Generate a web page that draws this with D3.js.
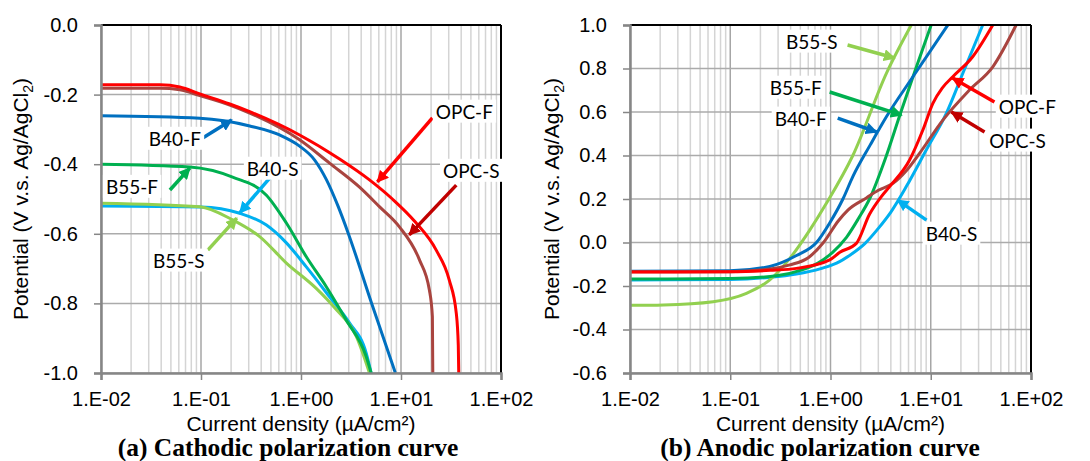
<!DOCTYPE html>
<html>
<head>
<meta charset="utf-8">
<title>Cathodic and anodic polarization curves</title>
<script src="https://d3js.org/d3.v7.min.js"></script>
<style>
body { margin: 0; background: #fff; }
svg text { font-family: "Liberation Sans", Arial, sans-serif; fill: #000; }
.lbl { font-family: Lato, "Open Sans", sans-serif; }
.cap { font-family: "Liberation Serif", "Times New Roman", serif; font-weight: bold; }
</style>
</head>
<body>
<svg id="chart" width="1090" height="461"></svg>
<script>

// ---- data: [current density (uA/cm2), potential (V)] ----
var seriesNames = ["B40-S", "B55-S", "B55-F", "B40-F", "OPC-S", "OPC-F"];
var seriesColors = ["#00B0F0", "#92D050", "#00B050", "#0070C0", "#A9443F", "#FF0000"];

// (a) cathodic
var cathOPCF = [[0.01,-0.172],[0.039,-0.172],[0.0614,-0.178],[0.0973,-0.198],[0.194,-0.227],[0.307,-0.249],[0.968,-0.316],[2.43,-0.385],[4.84,-0.445],[8.20,-0.500],[13.9,-0.566],[22.5,-0.647],[30.4,-0.733],[35.7,-0.828],[37.4,-0.920],[37.8,-1.0]];
var cathOPCS = [[0.01,-0.182],[0.039,-0.182],[0.0614,-0.186],[0.0973,-0.203],[0.194,-0.230],[0.307,-0.253],[0.968,-0.330],[1.93,-0.397],[3.85,-0.466],[6.08,-0.522],[9.64,-0.580],[15.3,-0.675],[19.2,-0.761],[20.6,-0.838],[20.8,-1.0]];
var cathB40F = [[0.01,-0.261],[0.0973,-0.268],[0.307,-0.290],[0.611,-0.316],[0.968,-0.348],[1.37,-0.388],[1.80,-0.445],[2.32,-0.517],[2.99,-0.601],[5.07,-0.799],[8.79,-1.0]];
var cathB40S = [[0.01,-0.520],[0.1,-0.523],[0.244,-0.541],[0.451,-0.575],[0.714,-0.626],[1.13,-0.695],[1.93,-0.781],[3.05,-0.856],[4.49,-0.943],[5.03,-1.0]];
var cathB55F = [[0.01,-0.400],[0.0773,-0.408],[0.207,-0.437],[0.451,-0.489],[0.714,-0.569],[1.13,-0.666],[1.79,-0.752],[2.83,-0.848],[4.49,-0.953],[5.03,-1.0]];
var cathB55S = [[0.01,-0.512],[0.0973,-0.522],[0.207,-0.560],[0.386,-0.608],[0.714,-0.684],[1.42,-0.757],[2.16,-0.812],[3.59,-0.896],[4.84,-1.0]];

// (b) anodic
var anodOPCF = [[0.01,-0.136],[0.1,-0.135],[0.25,-0.128],[0.457,-0.119],[0.982,-0.080],[1.24,-0.045],[1.81,-0.004],[2.45,0.13],[3.2,0.21],[3.89,0.257],[6.15,0.379],[8.34,0.517],[10.5,0.640],[13,0.71],[16.6,0.762],[26.2,0.854],[41.6,1.0]];
var anodOPCS = [[0.01,-0.135],[0.1,-0.134],[0.25,-0.122],[0.393,-0.103],[0.6,-0.07],[0.85,0.0],[1.2,0.1],[1.5,0.15],[2.28,0.205],[3.0,0.24],[4.2,0.272],[5.7,0.33],[7.73,0.41],[13.2,0.563],[24.3,0.701],[41.6,0.808],[71.1,1.0]];
var anodB40F = [[0.01,-0.132],[0.099,-0.130],[0.248,-0.11],[0.457,-0.06],[0.724,0.0],[0.982,0.09],[1.33,0.20],[1.67,0.303],[2.5,0.45],[3.61,0.578],[6.64,0.762],[14.8,1.0]];
var anodB40S = [[0.01,-0.172],[0.1,-0.170],[0.25,-0.160],[0.457,-0.145],[0.8,-0.12],[1.15,-0.095],[1.6,-0.055],[2.2,-0.005],[3.0,0.065],[4.0,0.14],[5.70,0.257],[9.02,0.425],[14.3,0.594],[20.9,0.778],[33.0,1.0]];
var anodB55F = [[0.01,-0.168],[0.1,-0.166],[0.3,-0.152],[0.5,-0.128],[0.75,-0.095],[1.05,-0.045],[1.45,0.025],[1.9,0.11],[2.45,0.20],[3.55,0.39],[4.95,0.59],[7.1,0.80],[10.1,1.0]];
var anodB55S = [[0.01,-0.289],[0.0215,-0.287],[0.0676,-0.272],[0.145,-0.234],[0.248,-0.172],[0.393,-0.073],[0.621,0.057],[0.91,0.18],[1.67,0.40],[3.61,0.778],[6.40,1.0]];

// axis ticks
var xDecades = [0.01, 0.1, 1, 10, 100];
var xTickLabels = ["1.E-02", "1.E-01", "1.E+00", "1.E+01", "1.E+02"];
var cathYTicks = [0, -0.2, -0.4, -0.6, -0.8, -1.0];
var anodYTicks = [1.0, 0.8, 0.6, 0.4, 0.2, 0, -0.2, -0.4, -0.6];

// annotations: [text, series index, text (i,V), arrow from (i,V), arrow to (i,V)]
var cathNotes = [
  ["OPC-F", 5, [43.0,-0.25], [20.6,-0.267], [5.81,-0.451]],
  ["OPC-S", 4, [50.5,-0.42], [35.7,-0.46], [12.1,-0.603]],
  ["B40-F", 3, [0.0548,-0.328], [0.104,-0.325], [0.203,-0.273]],
  ["B55-F", 2, [0.0204,-0.466], [0.0489,-0.474], [0.0773,-0.411]],
  ["B40-S", 0, [0.521,-0.414], [0.486,-0.44], [0.244,-0.540]],
  ["B55-S", 1, [0.060,-0.678], [0.117,-0.647], [0.228,-0.555]]
];
var anodNotes = [
  ["B55-S", 1, [0.650,0.922], [1.48,0.908], [4.36,0.848]],
  ["B55-F", 2, [0.450,0.710], [0.982,0.692], [5.12,0.586]],
  ["B40-F", 3, [0.505,0.568], [1.18,0.572], [2.88,0.508]],
  ["OPC-F", 5, [92.0,0.623], [43.2,0.646], [16.5,0.756]],
  ["OPC-S", 4, [73.3,0.467], [34.4,0.508], [16.1,0.600]],
  ["B40-S", 0, [16.1,0.039], [9.08,0.103], [4.67,0.195]]
];

// label colours differ from line colours for some mixes
var labelColors = ["#00B0F0", "#77933C", "#00B050", "#0070C0", "#C00000", "#FF0000"];
var arrowColors = ["#00B0F0", "#92D050", "#00B050", "#0070C0", "#C00000", "#FF0000"];

var svg = d3.select("#chart");

// arrow head markers, one per colour
var defs = svg.append("defs");
arrowColors.forEach(function(c, i) {
  defs.append("marker")
    .attr("id", "arrow" + i)
    .attr("viewBox", "0 0 10 10")
    .attr("refX", 9).attr("refY", 5)
    .attr("markerUnits", "userSpaceOnUse")
    .attr("markerWidth", 12).attr("markerHeight", 12)
    .attr("orient", "auto")
    .append("path")
    .attr("d", "M0,0 L10,5 L0,10 z")
    .attr("fill", c);
});

function drawPanel(p) {
  var x = d3.scaleLog().domain([0.01, 100]).range([p.left, p.right]);
  var y = d3.scaleLinear().domain(p.yDomain).range([p.bottom, p.top]);
  var g = svg.append("g");

  // minor vertical grid
  g.append("g").selectAll("line")
    .data(x.ticks().filter(d => xDecades.indexOf(d) < 0))
    .join("line")
    .attr("x1", d => x(d)).attr("x2", d => x(d))
    .attr("y1", p.top).attr("y2", p.bottom)
    .attr("stroke", "#d4d4d4").attr("stroke-width", 1.5);
  // major vertical grid
  g.append("g").selectAll("line")
    .data(xDecades)
    .join("line")
    .attr("x1", d => x(d)).attr("x2", d => x(d))
    .attr("y1", p.top).attr("y2", p.bottom)
    .attr("stroke", "#a6a6a6").attr("stroke-width", 1.5);
  // horizontal grid
  g.append("g").selectAll("line")
    .data(p.yTicks)
    .join("line")
    .attr("x1", p.left).attr("x2", p.right)
    .attr("y1", d => y(d)).attr("y2", d => y(d))
    .attr("stroke", "#ababab").attr("stroke-width", 1.5);

  // curves
  var line = d3.line()
    .x(d => x(d[0]))
    .y(d => y(d[1]))
    .curve(d3.curveMonotoneX);
  g.append("g").selectAll("path")
    .data(p.series)
    .join("path")
    .attr("d", d => line(d))
    .attr("fill", "none")
    .attr("stroke", (d, i) => seriesColors[i])
    .attr("stroke-width", 3)
    .attr("stroke-linejoin", "round");

  // frame: black top/right, grey axes left/bottom
  g.append("line").attr("x1", p.left).attr("x2", p.right).attr("y1", p.top).attr("y2", p.top)
    .attr("stroke", "#000").attr("stroke-width", 2);
  g.append("line").attr("x1", p.right).attr("x2", p.right).attr("y1", p.top).attr("y2", p.bottom)
    .attr("stroke", "#000").attr("stroke-width", 2);

  var yAxis = g.append("g")
    .attr("transform", "translate(" + p.left + ",0)")
    .call(d3.axisLeft(y).tickValues(p.yTicks).tickFormat(d => d.toFixed(1)).tickSize(7).tickPadding(16));
  var xAxis = g.append("g")
    .attr("transform", "translate(0," + p.bottom + ")")
    .call(d3.axisBottom(x).tickValues(xDecades).tickFormat((d, i) => xTickLabels[i]).tickSize(7).tickPadding(12));
  [yAxis, xAxis].forEach(function(a) {
    a.select(".domain").attr("stroke", "#868686").attr("stroke-width", 2.5);
    a.selectAll(".tick line").attr("stroke", "#868686").attr("stroke-width", 1.5);
    a.selectAll(".tick text").attr("font-size", 20).attr("fill", "#000");
  });

  // axis titles
  g.append("text")
    .attr("x", (p.left + p.right) / 2).attr("y", 431)
    .attr("text-anchor", "middle").attr("font-size", 21)
    .text("Current density (µA/cm²)");
  var yt = g.append("text")
    .attr("transform", "translate(" + p.yTitleX + "," + ((p.top + p.bottom) / 2) + ") rotate(-90)")
    .attr("text-anchor", "middle").attr("font-size", 21);
  yt.append("tspan").text("Potential (V v.s. Ag/AgCl");
  yt.append("tspan").attr("font-size", 14).attr("dy", 5).text("2");
  yt.append("tspan").attr("dy", -5).text(")");

  // caption
  g.append("text").attr("class", "cap")
    .attr("x", p.captionX).attr("y", 456)
    .attr("text-anchor", "middle").attr("font-size", 25.5)
    .text(p.caption);

  // annotations
  var notes = g.append("g");
  p.notes.forEach(function(n) {
    var k = n[1];
    notes.append("line")
      .attr("x1", x(n[3][0])).attr("y1", y(n[3][1]))
      .attr("x2", x(n[4][0])).attr("y2", y(n[4][1]))
      .attr("stroke", arrowColors[k]).attr("stroke-width", 3.5)
      .attr("marker-end", "url(#arrow" + k + ")");
  });
  p.notes.forEach(function(n) {
    var k = n[1];
    var t = notes.append("text").attr("class", "lbl")
      .attr("x", x(n[2][0])).attr("y", y(n[2][1]))
      .attr("text-anchor", "middle").attr("dy", "0.35em")
      .attr("font-size", 19).attr("fill", labelColors[k])
      .text(n[0]);
    var b = t.node().getBBox();
    notes.insert("rect", function() { return t.node(); })
      .attr("x", b.x - 3).attr("y", b.y)
      .attr("width", b.width + 6).attr("height", b.height)
      .attr("fill", "#fff");
  });
}

drawPanel({
  left: 101, right: 501, top: 25, bottom: 373,
  yDomain: [-1.0, 0], yTicks: cathYTicks,
  series: [cathB40S, cathB55S, cathB55F, cathB40F, cathOPCS, cathOPCF],
  notes: cathNotes, yTitleX: 28,
  caption: "(a) Cathodic polarization curve", captionX: 288
});
drawPanel({
  left: 630, right: 1031, top: 25, bottom: 373,
  yDomain: [-0.6, 1.0], yTicks: anodYTicks,
  series: [anodB40S, anodB55S, anodB55F, anodB40F, anodOPCS, anodOPCF],
  notes: anodNotes, yTitleX: 559,
  caption: "(b) Anodic polarization curve", captionX: 820
});
</script>
</body>
</html>
